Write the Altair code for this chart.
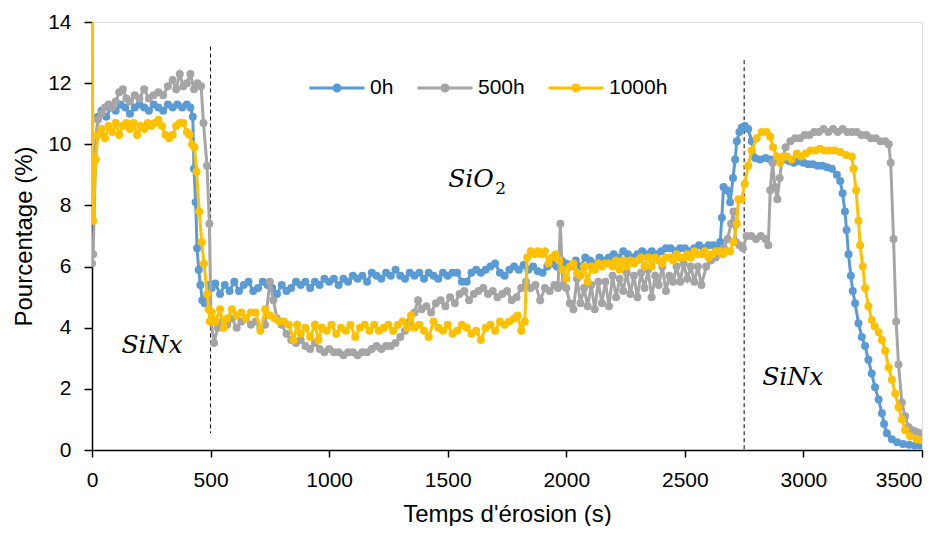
import altair as alt
import pandas as pd

# ---------------- data ----------------
series_names = ["0h", "500h", "1000h"]
series_colors = ["#5B9BD5", "#A5A5A5", "#FFC000"]

t_0h = [0, 10, 25, 40, 60, 80, 100, 120, 140, 160, 180, 200, 220, 240, 260, 280, 300, 320, 340, 360,
        380, 400, 415, 425, 430, 437, 443, 450, 457, 465, 475, 485, 495,
        505, 520, 540, 560, 580, 600, 620, 640, 660, 680, 700, 720, 740, 760, 780, 800, 820, 840,
        860, 880, 900, 920, 940, 960, 980, 1000, 1020, 1040, 1060, 1080, 1100, 1120, 1140, 1160,
        1180, 1200, 1220, 1240, 1260, 1280, 1300, 1320, 1340, 1360, 1380, 1400, 1420, 1440, 1460,
        1480, 1500, 1520, 1540, 1560, 1580, 1600, 1620, 1640, 1660, 1680, 1700, 1720, 1740, 1760,
        1780, 1800, 1820, 1840, 1860, 1880, 1900, 1920, 1940, 1960, 1980, 2000, 2020, 2040, 2060,
        2080, 2100, 2120, 2140, 2160, 2180, 2200, 2220, 2240, 2260, 2280, 2300, 2320, 2340, 2360,
        2380, 2400, 2420, 2440, 2460, 2480, 2500, 2520, 2540, 2560, 2580, 2600, 2620, 2640,
        2649, 2656, 2663, 2677, 2691, 2703, 2712, 2719, 2730, 2740, 2753, 2767, 2782, 2796, 2817,
        2840, 2860, 2880, 2900, 2920, 2940, 2960, 2980, 3000, 3020, 3040, 3060, 3080, 3099, 3120,
        3141, 3155, 3165, 3175, 3182, 3190, 3200, 3208, 3218, 3232, 3246, 3260, 3274, 3288, 3302,
        3317, 3331, 3340, 3352, 3373, 3395, 3420, 3446, 3470, 3492]
v_0h = [8.4, 9.5, 10.9, 11.1, 10.9, 11.2, 11.1, 11.3, 11.2, 11.0, 11.2, 11.3, 11.2, 11.1, 11.3, 11.2,
        11.1, 11.3, 11.2, 11.3, 11.2, 11.3, 11.2, 10.9, 9.2, 8.1, 6.6, 5.9, 5.4, 4.9, 4.8, 5.0, 5.4,
        5.3, 5.45, 5.1, 5.4, 5.2, 5.5, 5.2, 5.4, 5.5, 5.2, 5.3, 5.5, 5.4, 5.3, 5.1, 5.4, 5.2, 5.3,
        5.5, 5.4, 5.5, 5.3, 5.5, 5.4, 5.6, 5.5, 5.6, 5.4, 5.6, 5.5, 5.7, 5.6, 5.7, 5.5,
        5.8, 5.7, 5.6, 5.8, 5.7, 5.9, 5.7, 5.6, 5.8, 5.7, 5.8, 5.6, 5.8, 5.7, 5.6,
        5.8, 5.7, 5.8, 5.8, 5.5, 5.5, 5.8, 5.9, 5.8, 5.9, 6.0, 6.1, 5.8, 5.7, 5.9,
        6.0, 5.9, 6.05, 5.9, 6.0, 5.85, 5.8, 6.0, 6.1, 6.0, 6.2, 6.1, 6.0, 6.2, 6.0,
        6.3, 6.2, 6.1, 6.3, 6.2, 6.3, 6.4, 6.3, 6.5, 6.4, 6.3, 6.4, 6.5, 6.4, 6.5,
        6.4, 6.5, 6.6, 6.6, 6.5, 6.6, 6.6, 6.5, 6.6, 6.7, 6.6, 6.7, 6.7, 6.6,
        6.8, 7.6, 8.6, 8.5, 8.1, 8.9, 9.5, 10.1, 10.4, 10.55, 10.6, 10.5, 10.1, 9.55, 9.5,
        9.55, 9.5, 9.5, 9.45, 9.5, 9.45, 9.4, 9.45, 9.4, 9.35, 9.35, 9.3, 9.3, 9.25, 9.2,
        9.0, 8.8, 8.4, 7.8, 7.2, 6.4, 5.7, 5.2, 4.8, 4.15, 3.7, 3.4, 2.95, 2.5, 2.05,
        1.65, 1.2, 0.85, 0.55, 0.35, 0.25, 0.2, 0.17, 0.15, 0.15]

t_500h = [0, 5, 15, 25, 40, 55, 70, 85, 100, 115, 130, 145, 160, 180, 200, 220, 240, 260, 280, 300,
          320, 340, 355, 370, 385, 400, 415, 430, 445, 460, 470, 485, 495, 502, 515,
          530, 550, 570, 590, 610, 630, 650, 670, 690, 710, 730, 750, 765, 780, 800, 820, 840, 860,
          880, 900, 920, 940, 960, 980, 1000, 1020, 1040, 1060, 1080, 1100, 1120, 1140, 1160, 1180,
          1200, 1220, 1240, 1260, 1280, 1300, 1320, 1340, 1360, 1375, 1390, 1410, 1430, 1450, 1470,
          1490, 1510, 1530, 1550, 1570, 1590, 1610, 1630, 1650, 1670, 1690, 1710, 1730, 1750, 1770,
          1790, 1810, 1830, 1850, 1870, 1890, 1910, 1930, 1950, 1965, 1975, 1985, 2000, 2015, 2030,
          2045, 2060, 2075, 2090, 2105, 2120, 2135, 2150, 2165, 2180, 2195, 2210, 2225, 2240, 2255,
          2270, 2285, 2300, 2315, 2330, 2345, 2360, 2375, 2390, 2405, 2420, 2435, 2450, 2465, 2480,
          2495, 2510, 2525, 2540, 2555, 2570, 2590, 2610, 2630, 2650, 2665, 2680, 2695, 2705, 2715,
          2730, 2745, 2760, 2780, 2800, 2820, 2840, 2852, 2860, 2870, 2880, 2890, 2900, 2910, 2925,
          2945, 2965, 2985, 3005, 3025, 3045, 3065, 3085, 3105, 3125, 3145, 3165, 3185, 3205, 3225,
          3245, 3265, 3285, 3305, 3325, 3345, 3360, 3368, 3380, 3391, 3401, 3415, 3429, 3443, 3460,
          3475, 3490, 3500]
v_500h = [6.1, 6.4, 9.5, 10.8, 11.0, 11.2, 11.3, 11.2, 11.4, 11.7, 11.8, 11.5, 11.4, 11.6, 11.5, 11.8,
          11.5, 11.6, 11.7, 11.6, 11.9, 12.1, 11.8, 12.3, 11.9, 12.0, 12.3, 11.8, 12.0, 11.9, 10.7,
          9.3, 7.4, 4.2, 3.5,
          4.0, 4.2, 4.1, 4.3, 4.0, 4.2, 4.3, 4.1, 4.2, 4.0, 4.1, 5.5, 4.9, 4.3, 4.1, 3.8, 3.6, 3.5,
          3.6, 3.4, 3.3, 3.5, 3.3, 3.2, 3.3, 3.2, 3.2, 3.1, 3.2, 3.2, 3.1, 3.2, 3.2, 3.3,
          3.4, 3.3, 3.4, 3.4, 3.5, 3.7, 3.9, 4.2, 4.5, 4.9, 4.6, 4.7, 4.5, 4.8, 4.9,
          4.7, 5.0, 4.8, 5.1, 5.2, 4.9, 5.1, 5.2, 5.3, 5.1, 5.2, 5.0, 5.1, 5.2, 4.9,
          5.0, 5.3, 5.5, 5.3, 5.4, 4.9, 5.3, 5.2, 5.4, 5.3, 7.4, 5.4, 5.3, 4.8, 4.6,
          5.6, 4.8, 5.3, 4.7, 5.4, 4.6, 5.5, 4.8, 5.5, 4.7, 5.7, 5.0, 5.6, 5.2, 5.8,
          5.1, 5.7, 5.0, 5.8, 5.3, 5.9, 5.0, 5.7, 5.4, 6.0, 5.2, 5.7, 5.5, 6.0, 5.5,
          6.1, 5.6, 6.0, 5.5, 6.0, 5.4, 6.0, 6.2, 6.3, 6.5, 6.6, 6.9, 7.4, 7.8, 6.8,
          6.7, 6.6, 7.0, 7.0, 6.9, 7.0, 6.9, 6.7, 8.5, 9.4, 8.6, 8.2, 8.9, 9.5, 9.9,
          10.1, 10.2, 10.2, 10.3, 10.3, 10.4, 10.4, 10.5, 10.4, 10.5, 10.4, 10.5, 10.4, 10.4, 10.4,
          10.3, 10.3, 10.2, 10.2, 10.1, 10.1, 10.0, 9.4, 6.9, 4.2, 2.8, 1.55, 1.1, 0.75, 0.65,
          0.6, 0.55, 0.5]

t_1000h = [0, 5, 15, 25, 40, 55, 70, 85, 100, 115, 130, 145, 160, 175, 190, 205, 220, 235, 250, 265,
           280, 295, 310, 325, 340, 355, 370, 385, 400, 412, 422, 432, 441, 452, 463, 472, 486, 492,
           497, 505, 520, 540, 555, 570, 590, 610, 630, 650, 670, 690, 710, 730, 750, 770, 790, 810,
           830, 850, 865, 880, 900, 920, 940, 955, 970, 990, 1010, 1030, 1050, 1070, 1090, 1110,
           1130, 1150, 1170, 1190, 1210, 1230, 1250, 1270, 1290, 1310, 1330, 1345, 1360, 1380, 1400,
           1420, 1440, 1460, 1480, 1500, 1520, 1540, 1560, 1580, 1600, 1620, 1640, 1660, 1680, 1700,
           1720, 1740, 1760, 1780, 1795, 1810, 1825, 1835, 1850, 1865, 1880, 1895, 1910, 1925, 1940,
           1955, 1970, 1985, 2000, 2015, 2030, 2045, 2060, 2075, 2090, 2105, 2120, 2135, 2150, 2165,
           2180, 2195, 2210, 2225, 2240, 2255, 2270, 2285, 2300, 2315, 2330, 2345, 2360, 2375, 2390,
           2405, 2420, 2435, 2450, 2465, 2480, 2495, 2510, 2525, 2540, 2555, 2570, 2585, 2600, 2615,
           2630, 2645, 2660, 2675, 2690, 2705, 2719, 2726, 2740, 2752, 2767, 2782, 2803, 2824, 2845,
           2860, 2872, 2888, 2902, 2916, 2930, 2950, 2972, 2990, 3010, 3030, 3050, 3070, 3090, 3110,
           3130, 3155, 3180, 3204, 3211, 3222, 3232, 3239, 3250, 3260, 3274, 3288, 3300, 3317, 3331,
           3345, 3359, 3373, 3387, 3401, 3415, 3429, 3450, 3478, 3495]
v_1000h = [15.0, 7.5, 9.5, 10.3, 10.5, 10.2, 10.6, 10.4, 10.7, 10.3, 10.6, 10.7, 10.5, 10.7, 10.3, 10.6,
           10.5, 10.7, 10.6, 10.7, 10.8, 10.6, 10.3, 10.2, 10.3, 10.6, 10.7, 10.7, 10.4, 10.3, 10.0,
           9.9, 9.1, 7.8, 6.8, 6.1, 5.1, 4.6,
           4.2, 4.5, 4.2, 4.6, 4.0, 4.3, 4.6, 4.4, 4.5, 4.3, 4.5, 4.5, 3.9, 4.6, 4.4, 4.3, 4.2, 4.2,
           4.1, 3.6, 4.1, 3.8, 4.0, 3.7, 4.1, 3.6, 4.0, 3.9, 4.1, 3.8, 4.0, 3.9, 4.1, 3.7,
           4.0, 4.1, 3.9, 4.1, 3.9, 4.0, 4.1, 3.9, 4.1, 4.2, 4.0, 4.4, 4.0, 4.1, 3.9,
           3.7, 4.2, 4.0, 3.9, 4.1, 3.8, 3.9, 4.1, 4.0, 3.8, 3.9, 3.6, 4.0, 4.1, 3.9,
           4.2, 4.1, 4.2, 4.3, 4.4, 3.9, 4.2, 6.3, 6.5, 6.4, 6.5, 6.4, 6.5, 6.1, 6.3,
           6.4, 6.2, 5.9, 5.6, 6.0, 6.1, 5.8, 5.7, 6.0, 5.5, 6.0, 5.9, 6.1, 6.0, 6.1,
           6.1, 6.0, 6.2, 5.9, 6.2, 6.0, 6.2, 6.1, 6.2, 6.3, 6.0, 6.3, 6.0, 6.3, 6.2,
           6.1, 6.3, 6.3, 6.2, 6.4, 6.3, 6.3, 6.4, 6.3, 6.5, 6.4, 6.4, 6.5, 6.3, 6.4,
           6.5, 6.5, 6.4, 6.5, 6.5, 6.8, 7.4, 8.2, 8.2, 8.7, 9.3, 9.8, 10.2, 10.4, 10.4,
           10.25, 9.9, 9.6, 9.4, 9.6, 9.6, 9.5, 9.7, 9.6, 9.7, 9.8, 9.8, 9.85, 9.8, 9.8,
           9.8, 9.75, 9.65, 9.6, 9.2, 8.5, 7.5, 6.7, 6.0, 5.3, 4.7, 4.25, 4.05, 3.85, 3.6,
           3.25, 2.7, 2.3, 1.85, 1.4, 1.0, 0.65, 0.45, 0.35, 0.33]

# dashed boundaries
vline_x = [500, 2750]
vline_top = [13.2, 12.75]
vline_bottom = [0.55, 0.0]

# layer labels (main text and subscripts)
ann_text = ["SiNx", "SiO", "SiNx"]
ann_x = [253, 1598, 2955]
ann_y = [3.17, 8.6, 2.13]
sub_text = ["2"]
sub_x = [1700]
sub_y = [8.38]

x_ticks = [0, 500, 1000, 1500, 2000, 2500, 3000, 3500]
y_ticks = [0, 2, 4, 6, 8, 10, 12, 14]

# ---------------- build tables ----------------
frames = []
for name, ts, vs in [("0h", t_0h, v_0h), ("500h", t_500h, v_500h), ("1000h", t_1000h, v_1000h)]:
    frames.append(pd.DataFrame({"series": name, "t": ts, "v": vs}))
df = pd.concat(frames, ignore_index=True)

vlines = pd.DataFrame({"x": vline_x, "top": vline_top, "bottom": vline_bottom})
ann = pd.DataFrame({"label": ann_text, "x": ann_x, "y": ann_y})
subs = pd.DataFrame({"label": sub_text, "x": sub_x, "y": sub_y})

FONT = "Liberation Sans"

xscale = alt.Scale(domain=[0, 3500], nice=False, zero=False)
yscale = alt.Scale(domain=[0, 14], nice=False)

x_axis = alt.Axis(values=x_ticks, title="Temps d'érosion (s)", grid=False, format="d",
                  labelFont=FONT, labelFontSize=21, labelColor="black", labelPadding=12,
                  labelFlush=False,
                  labelAlign=alt.expr("datum.value >= 3500 ? 'right' : 'center'"),
                  tickSize=7, tickColor="black", tickWidth=1.5,
                  domainColor="black", domainWidth=1.5,
                  titleFont=FONT, titleFontSize=24, titleFontWeight="normal", titleColor="black",
                  titleBaseline="alphabetic", titleY=71)
y_axis = alt.Axis(values=y_ticks, title="Pourcentage (%)", grid=False, format="d",
                  labelFont=FONT, labelFontSize=21, labelColor="black", labelPadding=13,
                  labelFlush=False,
                  tickSize=8, tickColor="black", tickWidth=1.5,
                  domainColor="black", domainWidth=1.5,
                  titleFont=FONT, titleFontSize=24, titleFontWeight="normal", titleColor="black",
                  titleBaseline="alphabetic", titleX=-61)

legend_path = ("M-1,0L1,0M-0.11,0A0.11,0.11,0,1,1,0.11,0A0.11,0.11,0,1,1,-0.11,0Z")
legend = alt.Legend(orient="none", legendX=216, legendY=37, direction="horizontal", title=None,
                    symbolType=legend_path, symbolSize=3025, symbolStrokeWidth=3,
                    labelFont=FONT, labelFontSize=21, labelColor="black", labelOffset=4,
                    columnPadding=17)

color = alt.Color("series:N", scale=alt.Scale(domain=series_names, range=series_colors),
                  legend=legend)

base = alt.Chart(df)
layers = []
for name in series_names:
    sub = base.transform_filter(alt.datum.series == name)
    layers.append(
        sub.mark_line(strokeWidth=3, clip=True).encode(
            x=alt.X("t:Q", scale=xscale, axis=x_axis),
            y=alt.Y("v:Q", scale=yscale, axis=y_axis),
            color=color,
            order="t:Q",
        )
    )
    layers.append(
        sub.mark_circle(size=64, opacity=1, clip=True).encode(
            x=alt.X("t:Q", scale=xscale),
            y=alt.Y("v:Q", scale=yscale),
            color=color,
        )
    )

rules = alt.Chart(vlines).mark_rule(color="black", strokeWidth=1, strokeDash=[4, 3]).encode(
    x=alt.X("x:Q", scale=xscale),
    y=alt.Y("top:Q", scale=yscale),
    y2="bottom:Q",
)

labels = alt.Chart(ann).mark_text(font="DejaVu Serif", fontStyle="italic", fontSize=25,
                                  align="center", baseline="alphabetic", color="black").encode(
    x=alt.X("x:Q", scale=xscale),
    y=alt.Y("y:Q", scale=yscale),
    text="label:N",
)

sublabels = alt.Chart(subs).mark_text(font="DejaVu Serif", fontSize=17,
                                      align="left", baseline="alphabetic", color="black").encode(
    x=alt.X("x:Q", scale=xscale),
    y=alt.Y("y:Q", scale=yscale),
    text="label:N",
)

chart = alt.layer(rules, *layers, labels, sublabels).properties(
    width=830, height=428,
    autosize=alt.AutoSizeParams(type="none"),
    padding={"left": 84, "top": 14, "right": 18, "bottom": 76},
).configure_view(stroke="black", strokeWidth=1.3).configure(background="white")

chart.save("out.html", embed_options={"renderer": "svg", "actions": False})
